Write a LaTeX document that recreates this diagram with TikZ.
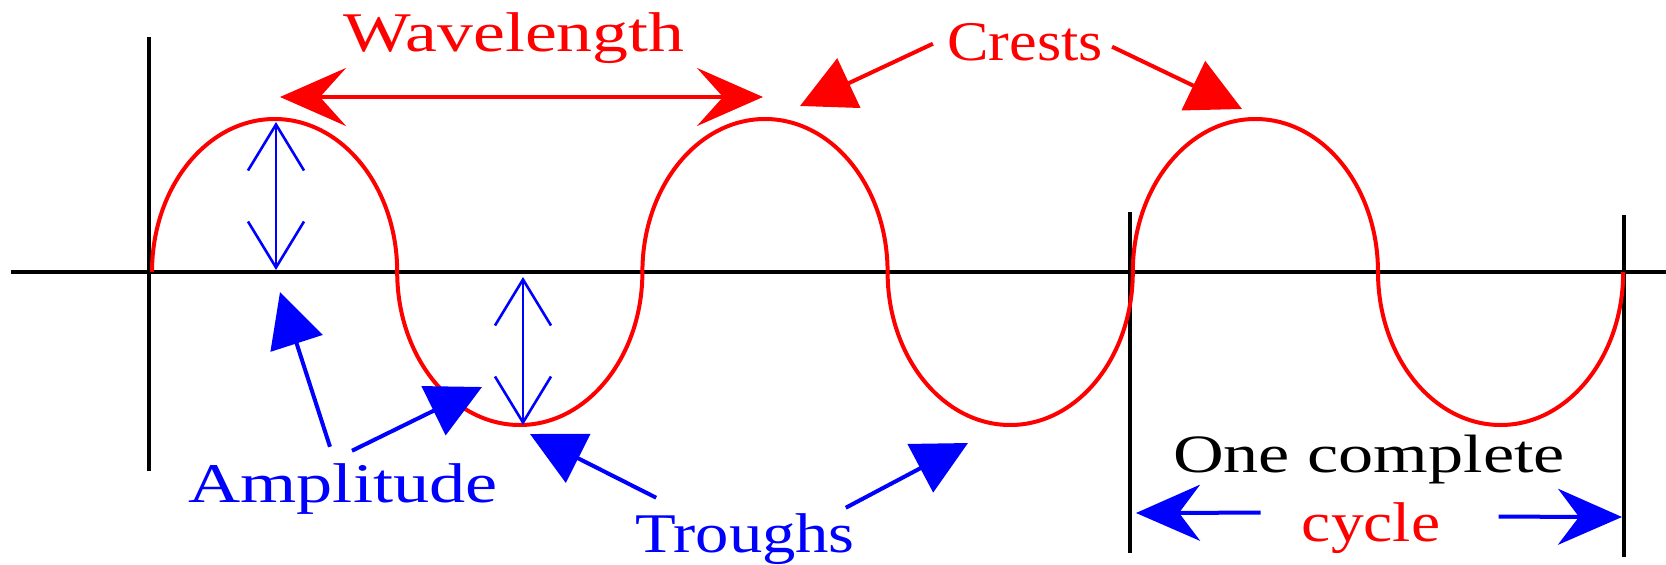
\documentclass[tikz,border=0pt]{standalone}
\usepackage{fontspec}
\setmainfont{Liberation Serif}
\usepackage{graphicx}
\usepackage{xcolor}
\usetikzlibrary{arrows.meta}
\newcommand{\wide}[2]{\scalebox{#1}[1]{#2}}

\begin{document}
\begin{tikzpicture}[
  x=0.5pt, y=0.5pt,
  font=\fontsize{28}{32}\selectfont,
  lab/.style ={inner sep=0pt, anchor=base},
  axis/.style={black, line width=2pt},
  tick/.style={black, line width=1.6pt},
  wave/.style={red, line width=2pt},
  wl/.style  ={red, line width=2pt,
               {Stealth[length=33pt,width=29pt,inset=13pt]}-{Stealth[length=33pt,width=29pt,inset=13pt]}},
  ptr/.style ={line width=2pt, -{Triangle[length=27pt,width=27pt]}},
  amp/.style ={blue, line width=1.3pt,
               {Straight Barb[length=23pt,width=28pt]}-{Straight Barb[length=23pt,width=28pt]}},
  cyc/.style ={blue, line width=2pt, -{Stealth[length=32pt,width=28pt,inset=10.5pt]}}]

\useasboundingbox (0,0) rectangle (1666,564);

\draw[axis] (11,292) -- (1666,292);
\draw[tick] (149,527) -- (149,93);
\draw[tick] (1130,352) -- (1130,11);
\draw[tick] (1624,349) -- (1624,7);

\draw[wave] (152,292) foreach \k in {1,2,3} {
  arc[start angle=180, end angle=0, x radius=61.3pt, y radius=76.5pt]
  arc[start angle=180, end angle=360, x radius=61.3pt, y radius=76.5pt]};

\node[lab, red] (wavelength) at (514,513) {\wide{1.28}{Wavelength}};
\node[lab, red] (crests) at (1025,504) {\wide{1.11}{Crests}};
\node[lab, blue] (amplitude) at (343,62) {\wide{1.29}{Amplitude}};
\node[lab, blue] (troughs) at (745,12) {\wide{1.19}{Troughs}};
\node[lab, font=\fontsize{27}{30}\selectfont] (complete) at (1369,92)
  {\wide{1.3}{One complete}};
\node[lab, red] (cycle) at (1371,23) {\wide{1.17}{cycle}};

\coordinate (wl-l) at (280,467);
\coordinate (wl-r) at (763,467);
\coordinate (crest-l) at (800,458);
\coordinate (crest-r) at (1242,455);
\coordinate (amp-a) at (280,272);
\coordinate (amp-b) at (482,177);
\coordinate (trough-l) at (530,130);
\coordinate (trough-r) at (968,121);
\coordinate (cyc-l) at (1136,51);
\coordinate (cyc-r) at (1622,47);
\coordinate (a1-top) at (276,442);
\coordinate (a1-bot) at (276,294);
\coordinate (a2-top) at (523,287);
\coordinate (a2-bot) at (523,139);

\draw[wl] (wl-l) -- (wl-r);
\draw[ptr, red] ([xshift=-7pt,yshift=-1pt]crests.west) -- (crest-l);
\draw[ptr, red] ([xshift=4.5pt,yshift=-2.5pt]crests.east) -- (crest-r);
\draw[ptr, blue] ([xshift=-6.5pt,yshift=8pt]amplitude.north) -- (amp-a);
\draw[ptr, blue] ([xshift=4.5pt,yshift=6pt]amplitude.north) -- (amp-b);
\draw[ptr, blue] ([xshift=10.75pt,yshift=7.5pt]troughs.north west) -- (trough-l);
\draw[ptr, blue] ([xshift=-4.75pt,yshift=2.5pt]troughs.north east) -- (trough-r);
\foreach \a/\b in {a1-top/a1-bot,a2-top/a2-bot}
  \draw[amp] (\a) -- (\b);
\draw[cyc] ([xshift=-20.5pt,yshift=7.5pt]cycle.west) -- (cyc-l);
\draw[cyc] ([xshift=29pt,yshift=5.5pt]cycle.east) -- (cyc-r);
\end{tikzpicture}
\end{document}
